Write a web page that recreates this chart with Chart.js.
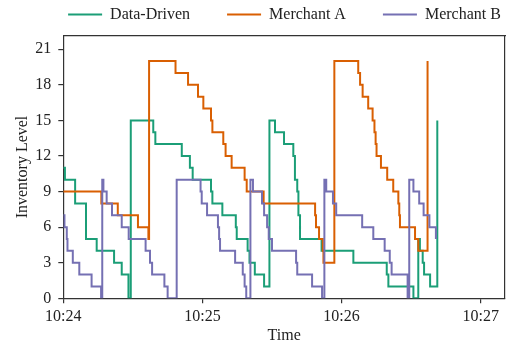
<!DOCTYPE html>
<html>
<head>
<meta charset="utf-8">
<script src="https://cdn.jsdelivr.net/npm/chart.js@4.4.1/dist/chart.umd.min.js"></script>
<style>
html,body{margin:0;padding:0;background:#fff;}
#wrap{width:512px;height:345px;}
</style>
</head>
<body>
<div id="wrap"><canvas id="c" width="512" height="345"></canvas></div>
<script>
// Series names and colours
const seriesNames = ['Data-Driven', 'Merchant A', 'Merchant B'];
const seriesColors = ['#1b9e77', '#d95f02', '#7570b3'];

// Times are seconds after 10:24:00; each level holds until the next time (step-post)
const ddTimes  = [0, 0.7, 5.1, 9.8, 14.4, 21.9, 25.2, 28.1, 29.1, 38.8, 39.7, 51.1, 54.6, 55.8, 63.7, 64.3, 68.6, 74.4, 74.8, 79.5, 80.3, 82.6, 86.6, 88.9, 91.3, 95.2, 99.2, 99.9, 100.9, 101.4, 102.1, 111.4, 125.1, 139.5, 140.2, 151.0, 153.1, 153.8, 155.0, 155.6, 158.2, 161.3];
const ddLevels = [11, 10, 8, 5, 4, 3, 2, 0, 15, 14, 13, 12, 11, 10, 9, 8, 7, 6, 5, 4, 3, 2, 1, 15, 14, 13, 12, 10, 9, 7, 5, 4, 3, 2, 1, 0, 5, 4, 3, 2, 1, 15];

const maTimes  = [0, 16.4, 23.5, 32.2, 36.7, 37.0, 48.4, 53.8, 58.1, 60.4, 63.7, 64.3, 69.0, 70.0, 72.6, 78.2, 79.1, 86.4, 108.6, 109.0, 110.3, 111.9, 112.2, 116.9, 127.2, 128.0, 129.1, 131.5, 133.4, 134.2, 134.7, 135.1, 137.0, 139.7, 142.3, 144.5, 144.9, 145.2, 151.7, 153.1, 157.1];
const maLevels = [9, 8, 7, 6, 5, 20, 19, 18, 17, 16, 15, 14, 13, 12, 11, 10, 9, 8, 7, 6, 5, 4, 3, 20, 19, 18, 17, 16, 15, 14, 13, 12, 11, 10, 9, 8, 7, 6, 5, 4, 20];

const mbTimes  = [0, 0.5, 1.5, 1.8, 4.1, 6.9, 12.2, 16.3, 16.8, 17.3, 18.7, 21.0, 25.2, 28.2, 35.5, 37.4, 38.3, 43.6, 45.0, 48.9, 59.2, 59.7, 62.0, 66.7, 67.2, 67.6, 74.1, 77.4, 78.2, 78.9, 80.7, 81.8, 85.7, 86.6, 87.9, 88.6, 90.0, 100.4, 100.9, 107.3, 111.6, 112.6, 113.4, 116.3, 117.7, 128.9, 133.7, 138.6, 140.8, 141.6, 148.5, 149.2, 151.0, 153.5, 155.4, 157.9, 160.7];
const mbLevels = [7, 6, 5, 4, 3, 2, 1, 0, 10, 9, 8, 7, 6, 5, 4, 3, 2, 1, 0, 10, 9, 8, 7, 6, 5, 4, 3, 2, 1, 0, 10, 9, 8, 7, 6, 5, 4, 3, 2, 1, 0, 10, 9, 8, 7, 6, 5, 4, 3, 2, 0, 10, 9, 8, 7, 6, 5];

// Axis ticks
const xTickValues = [0, 60, 120, 180];
const xTickLabels = ['10:24', '10:25', '10:26', '10:27'];
const yTickStep = 3;
const xMin = 0, xMax = 190.5;
const yMin = 0, yMax = 22.14;

const FONT = 'Liberation Serif';
const TXT = '#222';
const AX = '#333';

function pts(ts, vs) { return ts.map((t, i) => ({x: t, y: vs[i]})); }

const allTimes = [ddTimes, maTimes, mbTimes];
const allLevels = [ddLevels, maLevels, mbLevels];

const datasets = seriesNames.map((name, i) => ({
  label: name,
  data: pts(allTimes[i], allLevels[i]),
  borderColor: seriesColors[i],
  backgroundColor: seriesColors[i],
  borderWidth: 2,
  pointRadius: 0,
  stepped: true,
  fill: false,
  order: 3 - i,
  pointStyle: 'line'
}));

new Chart(document.getElementById('c'), {
  type: 'line',
  data: { datasets },
  options: {
    responsive: false,
    animation: false,
    devicePixelRatio: 1,
    layout: { padding: { top: -30.5, right: -57, left: 0, bottom: 0 } },
    plugins: {
      tooltip: { enabled: false },
      legend: {
        display: true,
        position: 'top',
        align: 'center',
        labels: {
          usePointStyle: true,
          pointStyleWidth: 34,
          padding: 37,
          color: TXT,
          font: { family: FONT, size: 16 },
          sort: (a, b) => a.datasetIndex - b.datasetIndex
        }
      }
    },
    scales: {
      x: {
        type: 'linear',
        position: 'bottom',
        min: xMin, max: xMax,
        afterBuildTicks: s => { s.ticks = xTickValues.map(v => ({value: v})); },
        ticks: {
          includeBounds: false,
          autoSkip: false,
          maxRotation: 0,
          padding: 4,
          color: TXT,
          font: { family: FONT, size: 16 },
          callback: (v) => { const k = xTickValues.indexOf(v); return k >= 0 ? xTickLabels[k] : ''; }
        },
        grid: { display: true, drawOnChartArea: false, drawTicks: true, tickLength: 5, color: AX, lineWidth: 1.2 },
        border: { display: true, color: AX, width: 1.2 },
        title: { display: true, text: 'Time', color: TXT, font: { family: FONT, size: 16 }, padding: { top: 0, bottom: 0 } },
        afterFit: s => { s.height = 46.7; }
      },
      y: {
        type: 'linear',
        position: 'left',
        min: yMin, max: yMax,
        ticks: {
          stepSize: yTickStep,
          includeBounds: false,
          padding: 7,
          color: TXT,
          font: { family: FONT, size: 16 }
        },
        grid: { display: true, drawOnChartArea: false, drawTicks: true, tickLength: 5, color: AX, lineWidth: 1.2 },
        border: { display: true, color: AX, width: 1.2 },
        title: { display: true, text: 'Inventory Level', color: TXT, font: { family: FONT, size: 16 }, padding: { top: 13.5, bottom: 0 } },
        afterFit: s => { s.width = 63.3; }
      },
      x2: {
        type: 'linear',
        position: 'top',
        min: xMin, max: xMax,
        ticks: { display: false },
        grid: { display: false },
        border: { display: true, color: AX, width: 1.2 },
        afterFit: s => { s.height = 3.2; }
      },
      y2: {
        type: 'linear',
        position: 'right',
        min: yMin, max: yMax,
        ticks: { display: false },
        grid: { display: false },
        border: { display: true, color: AX, width: 1.2 },
        afterFit: s => { s.width = 64; }
      }
    }
  }
});
</script>
</body>
</html>
